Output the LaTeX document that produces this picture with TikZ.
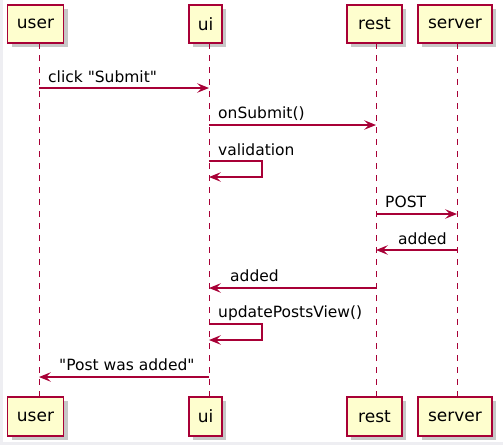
\documentclass[tikz,border=0pt]{standalone}
\usepackage{fontspec}
\setmainfont{DejaVu Sans}
\usetikzlibrary{arrows.meta,shadows}
\definecolor{pred}{HTML}{A80036}
\definecolor{pfill}{HTML}{FEFECE}
\definecolor{edgegray}{HTML}{EEEEF2}
\tikzset{
  pbox/.style={draw=pred, fill=pfill, line width=1.4pt, inner sep=0pt,
    font=\fontsize{17}{20}\selectfont,
    drop shadow={shadow xshift=4pt, shadow yshift=-4pt, fill=black, opacity=0.22}},
  life/.style={draw=pred, line width=1pt, dash pattern=on 6pt off 6pt},
  msg/.style={draw=pred, line width=1.2pt,
    -{Stealth[length=12pt, width=9.6pt, inset=4.8pt]}},
  lbl/.style={font=\fontsize{15.5}{18}\selectfont, inner sep=0pt, anchor=base west}
}
\begin{document}
\begin{tikzpicture}[x=1pt,y=-1pt]
\useasboundingbox (0,0) rectangle (503,445);
\fill[edgegray] (0,0) rectangle (2.5,445);
\fill[edgegray] (0,442) rectangle (503,445);

% participants (top)
\node[pbox, minimum width=56pt, minimum height=38pt] (userT) at (35.5,24) {user};
\node[pbox, minimum width=33pt, minimum height=38pt] (uiT) at (205.5,24) {ui};
\node[pbox, minimum width=55pt, minimum height=38pt] (restT) at (374.5,24) {rest};
\node[pbox, minimum width=74pt, minimum height=38pt] (serverT) at (455,24) {server};
% participants (bottom)
\node[pbox, minimum width=56pt, minimum height=39pt] (userB) at (35.5,416.5) {user};
\node[pbox, minimum width=33pt, minimum height=39pt] (uiB) at (205.5,416.5) {ui};
\node[pbox, minimum width=55pt, minimum height=39pt] (restB) at (374.5,416.5) {rest};
\node[pbox, minimum width=74pt, minimum height=39pt] (serverB) at (455,416.5) {server};

% lifeline ends
\coordinate (userL) at (39,43);   \coordinate (userE) at (39,397);
\coordinate (uiL) at (209,43);    \coordinate (uiE) at (209,397);
\coordinate (restL) at (376,43);  \coordinate (restE) at (376,397);
\coordinate (serverL) at (457,43);\coordinate (serverE) at (457,397);
\draw[life] (userL) -- (userE);
\draw[life] (uiL) -- (uiE);
\draw[life] (restL) -- (restE);
\draw[life] (serverL) -- (serverE);

% messages
\draw[msg] (userL |- 0,88) -- (uiL |- 0,88);
\node[lbl] (m1) at (48,82) {click \textquotedbl Submit\textquotedbl};

\draw[msg] (uiL |- 0,125) -- (restL |- 0,125);
\node[lbl] (m2) at (218,118.5) {onSubmit()};

\draw[msg] (uiL |- 0,161) -- (262,161) -- (262,177) -- (uiL |- 0,177);
\node[lbl] (m3) at (218,155) {validation};

\draw[msg] (restL |- 0,214) -- (serverL |- 0,214);
\node[lbl] (m4) at (385,207.5) {POST};

\draw[msg] (serverL |- 0,250) -- (restL |- 0,250);
\node[lbl] (m5) at (398,244) {added};

\draw[msg] (restL |- 0,288) -- (uiL |- 0,288);
\node[lbl] (m6) at (230,281.5) {added};

\draw[msg] (uiL |- 0,324) -- (262,324) -- (262,340) -- (uiL |- 0,340);
\node[lbl] (m7) at (218,317.5) {updatePostsView()};

\draw[msg] (uiL |- 0,377) -- (userL |- 0,377);
\node[lbl] (m8) at (59,370) {\textquotedbl Post was added\textquotedbl};
\end{tikzpicture}
\end{document}
